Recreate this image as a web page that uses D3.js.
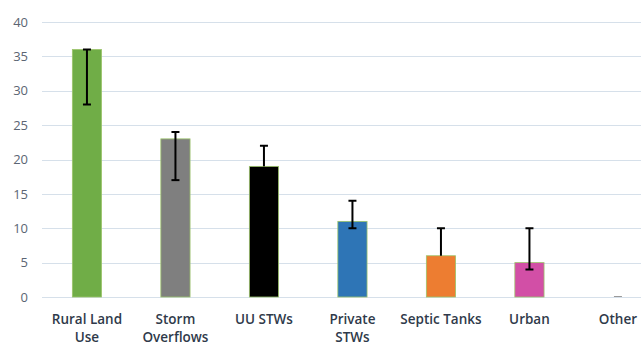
<!DOCTYPE html>
<html>
<head>
<meta charset="utf-8">
<script src="https://cdn.jsdelivr.net/npm/d3@7"></script>
<style>
  html, body { margin: 0; padding: 0; background: #fff; }
  svg { display: block; }
</style>
</head>
<body>
<svg id="chart" width="641" height="347"></svg>
<script>
// Source contributions (%) with low/high uncertainty bounds
const categories = ["Rural Land Use", "Storm Overflows", "UU STWs", "Private STWs", "Septic Tanks", "Urban", "Other"];
const labelLines = [["Rural Land", "Use"], ["Storm", "Overflows"], ["UU STWs"], ["Private", "STWs"], ["Septic Tanks"], ["Urban"], ["Other"]];
const values = [36, 23, 19, 11, 6, 5, 0];
const lowBounds = [28, 17, 19, 10, 6, 4, 0];
const highBounds = [36, 24, 22, 14, 10, 10, 0];
const barColors = ["#70ad47", "#7f7f7f", "#000000", "#2e75b6", "#ed7d31", "#d24fa6", "#a5a5a5"];
const yTicks = [0, 5, 10, 15, 20, 25, 30, 35, 40];

const svg = d3.select("#chart");
const W = 641, H = 347;

const x = d3.scaleBand()
  .domain(categories)
  .range([42.7, 662.2])
  .paddingInner(0.67)
  .paddingOuter(0.335);

const y = d3.scaleLinear().domain([0, 40]).range([297, 22]);

// Horizontal gridlines
svg.append("g")
  .selectAll("line")
  .data(yTicks)
  .join("line")
  .attr("x1", 42).attr("x2", W)
  .attr("y1", d => Math.round(y(d)) + 0.5)
  .attr("y2", d => Math.round(y(d)) + 0.5)
  .attr("stroke", "#d6e0ea")
  .attr("stroke-width", 1);

// Y axis labels
const yAxis = d3.axisLeft(y).tickValues(yTicks).tickSize(0).tickPadding(0);
const yg = svg.append("g").attr("transform", "translate(28,0)").call(yAxis);
yg.select(".domain").remove();
yg.selectAll("text")
  .attr("font-family", "'Open Sans', sans-serif")
  .attr("font-size", 13)
  .attr("fill", "#5b6573");

// Bars
svg.append("g")
  .selectAll("rect")
  .data(categories)
  .join("rect")
  .attr("x", d => x(d))
  .attr("width", x.bandwidth())
  .attr("y", (d, i) => y(values[i]))
  .attr("height", (d, i) => y(0) - y(values[i]))
  .attr("fill", (d, i) => barColors[i])
  .attr("stroke", (d, i) => values[i] > 0 ? "#9cc46a" : "none")
  .attr("stroke-width", 0.8);

// "Other" is zero: a tiny mark on the baseline
svg.append("line")
  .attr("x1", x("Other") + x.bandwidth() / 2 - 4)
  .attr("x2", x("Other") + x.bandwidth() / 2 + 4)
  .attr("y1", y(0) - 0.5).attr("y2", y(0) - 0.5)
  .attr("stroke", "#9a9a9a").attr("stroke-width", 1);

// Error bars
const err = svg.append("g").attr("stroke", "#000").attr("stroke-width", 2);
categories.forEach((c, i) => {
  if (highBounds[i] === lowBounds[i]) return;
  const cx = x(c) + x.bandwidth() / 2;
  err.append("line").attr("x1", cx).attr("x2", cx)
    .attr("y1", y(highBounds[i])).attr("y2", y(lowBounds[i]));
  err.append("line").attr("x1", cx - 4).attr("x2", cx + 4)
    .attr("y1", y(highBounds[i])).attr("y2", y(highBounds[i]));
  if (lowBounds[i] !== values[i]) {
    err.append("line").attr("x1", cx - 4).attr("x2", cx + 4)
      .attr("y1", y(lowBounds[i])).attr("y2", y(lowBounds[i]));
  }
});

// Category labels
const lab = svg.append("g")
  .attr("font-family", "'Open Sans', sans-serif")
  .attr("font-size", 13.5)
  .attr("font-weight", 600)
  .attr("fill", "#2f3a4a")
  .attr("text-anchor", "middle");
categories.forEach((c, i) => {
  const t = lab.append("text")
    .attr("x", x(c) + x.bandwidth() / 2)
    .attr("y", 324);
  labelLines[i].forEach((ln, k) => {
    t.append("tspan")
      .attr("x", x(c) + x.bandwidth() / 2)
      .attr("dy", k === 0 ? 0 : 18)
      .text(ln);
  });
});
</script>
</body>
</html>
